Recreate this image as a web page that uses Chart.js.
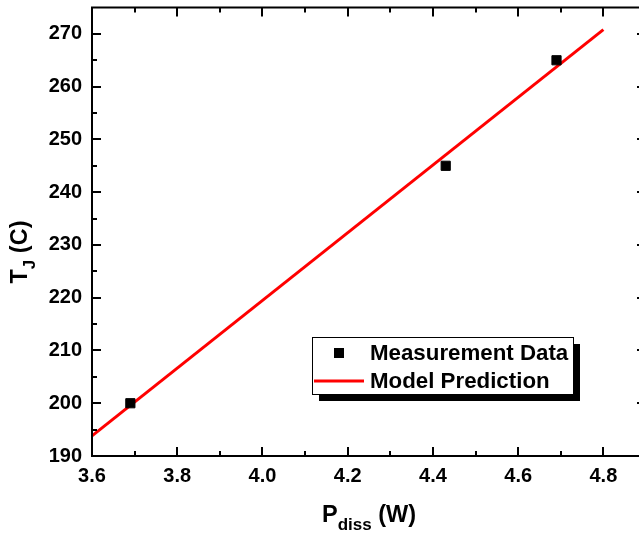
<!DOCTYPE html>
<html>
<head>
<meta charset="utf-8">
<script src="https://cdn.jsdelivr.net/npm/chart.js@4.4.1/dist/chart.umd.min.js"></script>
<style>
html, body { margin: 0; padding: 0; background: #fff; overflow: hidden; }
#c { display: block; }
</style>
</head>
<body>
<canvas id="c" width="658" height="533"></canvas>
<script>
// measured points and the model line
var measP = [3.69, 4.43, 4.69];
var measT = [200, 245, 265];
var modelP = [3.6, 4.8];
var modelT = [193.8, 270.8];
var seriesNames = ['Measurement Data', 'Model Prediction'];

// axis ranges and tick steps
var xRange = [3.6, 4.9];
var yRange = [190, 275];
var xStep = 0.2;
var yStep = 10;

var FONT = '"Liberation Sans", Arial, Helvetica, sans-serif';

function pairs(xs, ys) {
  var out = [], i;
  for (i = 0; i < xs.length; i++) {
    out.push({ x: xs[i], y: ys[i] });
  }
  return out;
}

// frame on all four sides with inward major/minor ticks
var frameTicks = {
  id: 'frameTicks',
  afterDraw: function(chart) {
    var ctx = chart.ctx, a = chart.chartArea;
    var xs = chart.scales.x, ys = chart.scales.y;
    var major = 9, minor = 5;

    function tickVals(scale, step) {
      var maj = scale.ticks.map(function(t) { return t.value; });
      var min = [], i, v;
      for (i = 0; i < maj.length; i++) {
        v = maj[i] + step / 2;
        if (v < scale.max - 1e-9) min.push(v);
      }
      return { maj: maj, min: min };
    }

    ctx.save();
    ctx.strokeStyle = '#000';
    ctx.lineWidth = 2;
    ctx.strokeRect(a.left, a.top, a.right - a.left, a.bottom - a.top);

    var tx = tickVals(xs, xStep), ty = tickVals(ys, yStep);
    ctx.beginPath();
    [[tx.maj, major], [tx.min, minor]].forEach(function(set) {
      set[0].forEach(function(v) {
        var p = Math.round(xs.getPixelForValue(v));
        ctx.moveTo(p, a.bottom); ctx.lineTo(p, a.bottom - set[1]);
        ctx.moveTo(p, a.top); ctx.lineTo(p, a.top + set[1]);
      });
    });
    [[ty.maj, major], [ty.min, minor]].forEach(function(set) {
      set[0].forEach(function(v) {
        var p = Math.round(ys.getPixelForValue(v));
        ctx.moveTo(a.left, p); ctx.lineTo(a.left + set[1], p);
        ctx.moveTo(a.right, p); ctx.lineTo(a.right - set[1], p);
      });
    });
    ctx.stroke();
    ctx.restore();
  }
};

// axis titles with subscripts
var axisTitles = {
  id: 'axisTitles',
  afterDraw: function(chart) {
    var ctx = chart.ctx, a = chart.chartArea;
    var big = 'bold 23.5px ' + FONT, small = 'bold 17px ' + FONT;

    function drawParts(parts, cx, baseY) {
      var w = 0, x;
      parts.forEach(function(p) { ctx.font = p[1]; w += ctx.measureText(p[0]).width; });
      x = cx - w / 2;
      parts.forEach(function(p) {
        ctx.font = p[1];
        ctx.fillText(p[0], x, baseY + p[2]);
        x += ctx.measureText(p[0]).width;
      });
    }

    ctx.save();
    ctx.fillStyle = '#000';
    ctx.textBaseline = 'alphabetic';
    ctx.textAlign = 'left';
    drawParts([['P', big, 0], ['diss', small, 8], [' (W)', big, 0]], (a.left + a.right) / 2, 522);

    ctx.translate(27, 252);
    ctx.rotate(-Math.PI / 2);
    drawParts([['T', big, 0], ['J', small, 8], [' (C)', big, 0]], 0, 0);
    ctx.restore();
  }
};

// boxed legend with drop shadow inside the plot
var boxLegend = {
  id: 'boxLegend',
  afterDraw: function(chart) {
    var ctx = chart.ctx;
    var ds = chart.data.datasets;
    var bx = 312, by = 337, bw = 261, bh = 57, sh = 7;

    ctx.save();
    ctx.fillStyle = '#000';
    ctx.fillRect(bx + sh, by + sh, bw, bh);
    ctx.fillStyle = '#fff';
    ctx.fillRect(bx, by, bw, bh);
    ctx.strokeStyle = '#000';
    ctx.lineWidth = 1;
    ctx.strokeRect(bx + 0.5, by + 0.5, bw, bh);

    ctx.fillStyle = ds[0].backgroundColor;
    ctx.fillRect(334, 348, 10, 10);

    ctx.strokeStyle = ds[1].borderColor;
    ctx.lineWidth = 3;
    ctx.beginPath();
    ctx.moveTo(314, 381);
    ctx.lineTo(364, 381);
    ctx.stroke();

    ctx.fillStyle = '#000';
    ctx.font = 'bold 22.3px ' + FONT;
    ctx.textAlign = 'left';
    ctx.textBaseline = 'alphabetic';
    ctx.fillText(ds[0].label, 370, 360);
    ctx.fillText(ds[1].label, 370, 388);
    ctx.restore();
  }
};

var tickFont = { family: FONT, size: 20, weight: 'bold' };

new Chart(document.getElementById('c'), {
  type: 'scatter',
  data: {
    datasets: [
      {
        label: seriesNames[0],
        data: pairs(measP, measT),
        showLine: false,
        pointStyle: 'rect',
        pointRadius: 6.5,
        backgroundColor: '#000',
        borderColor: '#000',
        borderWidth: 1
      },
      {
        label: seriesNames[1],
        data: pairs(modelP, modelT),
        showLine: true,
        borderColor: '#ff0000',
        backgroundColor: '#ff0000',
        borderWidth: 3,
        pointRadius: 0
      }
    ]
  },
  options: {
    responsive: false,
    animation: false,
    devicePixelRatio: 1,
    layout: { padding: { top: 7, right: 12, left: 0, bottom: 0 } },
    plugins: {
      legend: { display: false },
      tooltip: { enabled: false }
    },
    scales: {
      x: {
        type: 'linear',
        position: 'bottom',
        min: xRange[0],
        max: xRange[1],
        grid: { display: false, drawTicks: false },
        border: { display: false },
        ticks: {
          stepSize: xStep,
          includeBounds: false,
          autoSkip: false,
          maxRotation: 0,
          padding: 8,
          color: '#000',
          font: tickFont,
          callback: function(v) { return Number(v).toFixed(1); }
        },
        afterFit: function(s) { s.height = 77; s.paddingLeft = 0; s.paddingRight = 0; }
      },
      y: {
        type: 'linear',
        min: yRange[0],
        max: yRange[1],
        grid: { display: false, drawTicks: false },
        border: { display: false },
        ticks: {
          stepSize: yStep,
          includeBounds: false,
          autoSkip: false,
          padding: 10,
          color: '#000',
          font: tickFont,
          callback: function(v) { return Math.round(v); }
        },
        afterFit: function(s) { s.width = 92; s.paddingTop = 0; s.paddingBottom = 0; }
      }
    }
  },
  plugins: [frameTicks, axisTitles, boxLegend]
});
</script>
</body>
</html>
